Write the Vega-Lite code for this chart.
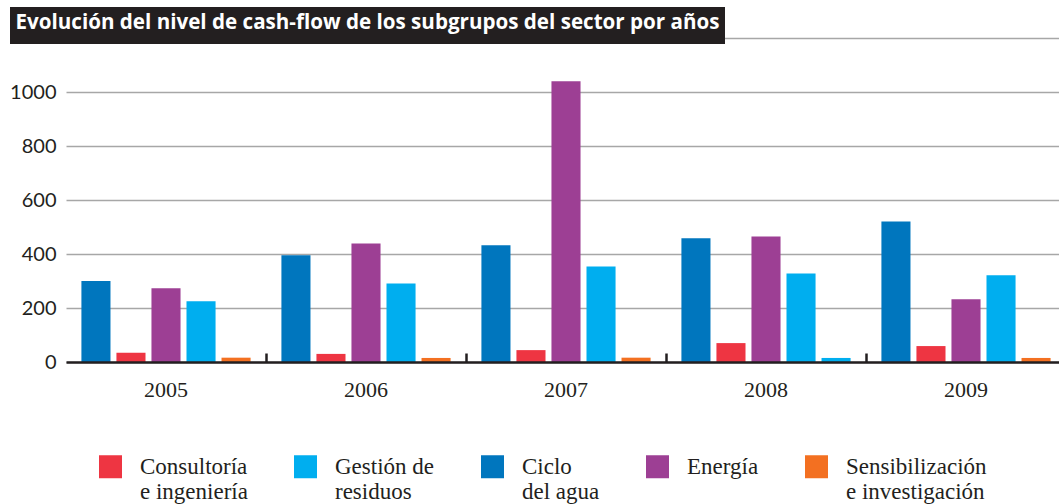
{
  "$schema": "https://vega.github.io/schema/vega-lite/v6.json",
  "width": 993,
  "height": 324,
  "autosize": {"type": "none"},
  "padding": {"left": 66, "top": 38, "right": 0, "bottom": 142},
  "background": "white",
  "config": {"view": {"stroke": null}, "font": "Lato"},
  "datasets": {
    "cf": [
      {"year": "2005", "cat": "Ciclo del agua", "value": 300},
      {"year": "2005", "cat": "Consultoría e ingeniería", "value": 34},
      {"year": "2005", "cat": "Energía", "value": 273},
      {"year": "2005", "cat": "Gestión de residuos", "value": 225},
      {"year": "2005", "cat": "Sensibilización e investigación", "value": 16},
      {"year": "2006", "cat": "Ciclo del agua", "value": 395},
      {"year": "2006", "cat": "Consultoría e ingeniería", "value": 30},
      {"year": "2006", "cat": "Energía", "value": 439},
      {"year": "2006", "cat": "Gestión de residuos", "value": 291},
      {"year": "2006", "cat": "Sensibilización e investigación", "value": 15},
      {"year": "2007", "cat": "Ciclo del agua", "value": 432},
      {"year": "2007", "cat": "Consultoría e ingeniería", "value": 44},
      {"year": "2007", "cat": "Energía", "value": 1040},
      {"year": "2007", "cat": "Gestión de residuos", "value": 354},
      {"year": "2007", "cat": "Sensibilización e investigación", "value": 16},
      {"year": "2008", "cat": "Ciclo del agua", "value": 458},
      {"year": "2008", "cat": "Consultoría e ingeniería", "value": 70},
      {"year": "2008", "cat": "Energía", "value": 465},
      {"year": "2008", "cat": "Gestión de residuos", "value": 328},
      {"year": "2008", "cat": "Sensibilización e investigación", "value": 15},
      {"year": "2009", "cat": "Ciclo del agua", "value": 520},
      {"year": "2009", "cat": "Consultoría e ingeniería", "value": 59},
      {"year": "2009", "cat": "Energía", "value": 232},
      {"year": "2009", "cat": "Gestión de residuos", "value": 321},
      {"year": "2009", "cat": "Sensibilización e investigación", "value": 15}
    ],
    "ttl": [{"k": "t"}]
  },
  "layer": [
    {
      "data": {"name": "cf"},
      "mark": {"type": "bar"},
      "encoding": {
        "x": {
          "field": "year",
          "type": "nominal",
          "scale": {"range": [0, 1000], "paddingInner": 0, "paddingOuter": 0},
          "axis": {
            "title": null,
            "zindex": 1,
            "labelAngle": 0,
            "labelFont": "Liberation Serif",
            "labelFontSize": 22,
            "labelColor": "#231f20",
            "labelBaseline": "alphabetic",
            "labelPadding": 43,
            "tickSize": -9,
            "tickWidth": 2.5,
            "tickColor": "#231f20",
            "bandPosition": 1,
            "tickExtra": false,
            "domainColor": "#231f20",
            "domainWidth": 2.5
          }
        },
        "xOffset": {
          "field": "cat",
          "type": "nominal",
          "sort": ["Ciclo del agua", "Consultoría e ingeniería", "Energía", "Gestión de residuos", "Sensibilización e investigación"],
          "scale": {"paddingInner": 0.17, "paddingOuter": 0.44}
        },
        "y": {
          "field": "value",
          "type": "quantitative",
          "scale": {"domain": [0, 1200]},
          "axis": {
            "title": null,
            "values": [0, 200, 400, 600, 800, 1000, 1200],
            "format": "d",
            "labelExpr": "datum.value == 1200 ? '' : datum.label",
            "domain": false,
            "ticks": false,
            "labelPadding": 10,
            "labelFont": "Lato",
            "labelFontSize": 20,
            "labelColor": "#231f20",
            "gridColor": "#a7a7a7",
            "gridWidth": 1.5
          }
        },
        "color": {
          "field": "cat",
          "type": "nominal",
          "condition": {"test": "datum.year === '2008' && datum.cat === 'Sensibilización e investigación'", "value": "#00aeef"},
          "scale": {
            "domain": ["Consultoría e ingeniería", "Gestión de residuos", "Ciclo del agua", "Energía", "Sensibilización e investigación"],
            "range": ["#ee3542", "#00aeef", "#0076be", "#9d3f94", "#f37021"]
          },
          "legend": {
            "title": null,
            "orient": "none",
            "legendX": 33,
            "legendY": 417,
            "direction": "horizontal",
            "columns": 5,
            "symbolType": "square",
            "symbolSize": 529,
            "symbolStrokeWidth": 0,
            "symbolOpacity": 1,
            "labelFont": "Liberation Serif",
            "labelFontSize": 23,
            "labelColor": "#231f20",
            "labelOffset": 18,
            "labelBaseline": "middle",
            "labelLimit": 400,
            "columnPadding": 46,
            "padding": 0,
            "labelExpr": "datum.label == 'Consultoría e ingeniería' ? ['Consultoría', 'e ingeniería'] : datum.label == 'Gestión de residuos' ? ['Gestión de', 'residuos'] : datum.label == 'Ciclo del agua' ? ['Ciclo', 'del agua'] : datum.label == 'Sensibilización e investigación' ? ['Sensibilización', 'e investigación'] : datum.label == 'Energía' ? ['Energía', ' '] : datum.label"
          }
        }
      }
    },
    {
      "data": {"name": "ttl"},
      "mark": {"type": "point", "opacity": 0},
      "encoding": {
        "shape": {
          "field": "k",
          "type": "nominal",
          "legend": {
            "title": " Evolución del nivel de cash-flow de los subgrupos del sector por años ",
            "orient": "none",
            "legendX": -56,
            "legendY": -31,
            "fillColor": "#231f20",
            "padding": 5.5,
            "titleColor": "white",
            "titleFont": "Open Sans",
            "titleFontWeight": "bold",
            "titleFontSize": 20.6,
            "titleLimit": 1000,
            "titlePadding": 0,
            "symbolSize": 0,
            "symbolOpacity": 0,
            "symbolStrokeWidth": 0,
            "labelExpr": "''",
            "labelFontSize": 0
          }
        }
      }
    }
  ]
}
